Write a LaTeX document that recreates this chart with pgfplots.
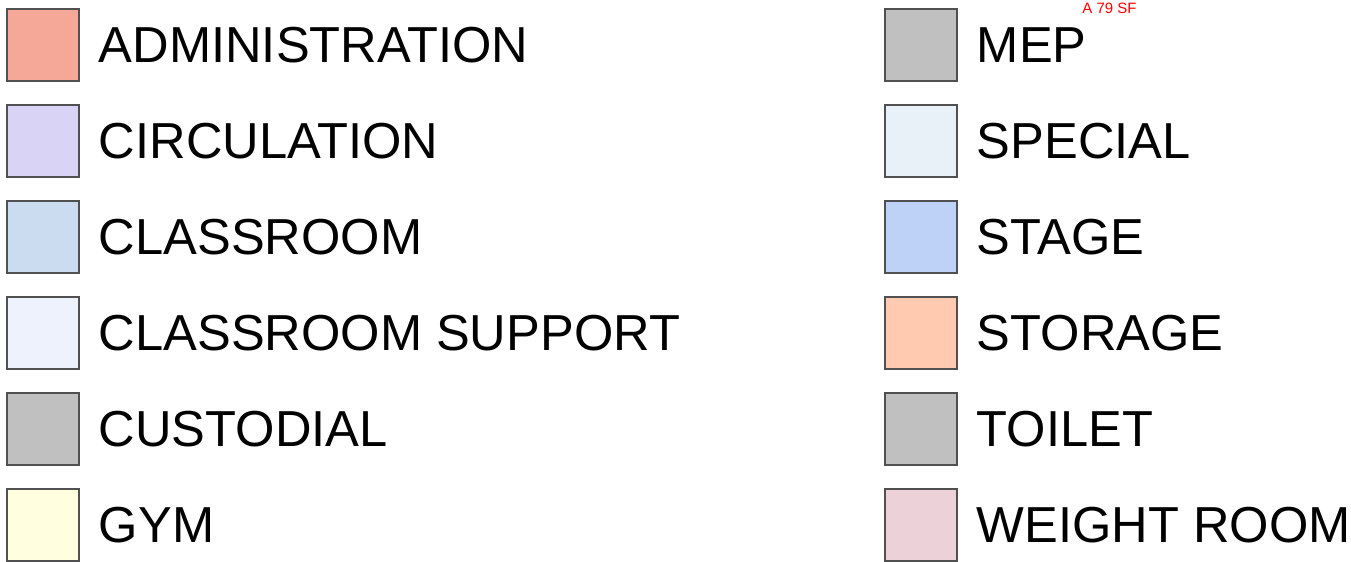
\documentclass[border=0pt]{standalone}
\usepackage{pgfplots}
\pgfplotsset{compat=1.18}
\usepackage{fontspec}
\setmainfont{Liberation Sans}
\definecolor{cAdm}{HTML}{F5A898}
\definecolor{cCirc}{HTML}{D9D3F5}
\definecolor{cClass}{HTML}{CCDCF0}
\definecolor{cClassSup}{HTML}{EEF2FD}
\definecolor{cCust}{HTML}{C0C0C0}
\definecolor{cGym}{HTML}{FFFFE0}
\definecolor{cMep}{HTML}{C0C0C0}
\definecolor{cSpec}{HTML}{E8F0F8}
\definecolor{cStage}{HTML}{BED2F8}
\definecolor{cStor}{HTML}{FFCAB0}
\definecolor{cToil}{HTML}{C0C0C0}
\definecolor{cWeight}{HTML}{EDD1D8}
\definecolor{edge}{HTML}{505050}
% swatch: #1 = left x, #2 = top y, #3 colour, #4 label
\newcommand{\swatch}[4]{%
  \addplot[draw=edge, line width=0.7pt, fill=#3, line join=miter, mark=none]
    coordinates {(#1,#2) (#1+72,#2) (#1+72,#2+72) (#1,#2+72)} -- cycle;
  \node[anchor=base west, inner sep=0pt, font=\fontsize{25.3}{30}\selectfont]
    at (axis cs:#1+91.5,#2+53) {#4};
}
\begin{document}
\begin{tikzpicture}
\begin{axis}[
  width=675.5pt, height=281pt, scale only axis,
  xmin=0, xmax=1351, ymin=0, ymax=562, y dir=reverse,
  hide axis, clip=false,
]
\path (rel axis cs:0,0) rectangle (rel axis cs:1,1);
\swatch{7}{9}{cAdm}{ADMINISTRATION}
\swatch{7}{105}{cCirc}{CIRCULATION}
\swatch{7}{201}{cClass}{CLASSROOM}
\swatch{7}{297}{cClassSup}{CLASSROOM SUPPORT}
\swatch{7}{393}{cCust}{CUSTODIAL}
\swatch{7}{489}{cGym}{GYM}
\swatch{885}{9}{cMep}{MEP}
\swatch{885}{105}{cSpec}{SPECIAL}
\swatch{885}{201}{cStage}{STAGE}
\swatch{885}{297}{cStor}{STORAGE}
\swatch{885}{393}{cToil}{TOILET}
\swatch{885}{489}{cWeight}{WEIGHT ROOM}
\node[anchor=base west, inner sep=0pt, text=red, font=\fontsize{7.5}{8}\selectfont]
  at (axis cs:1082,13) {A 79 SF};
\end{axis}
\end{tikzpicture}
\end{document}
